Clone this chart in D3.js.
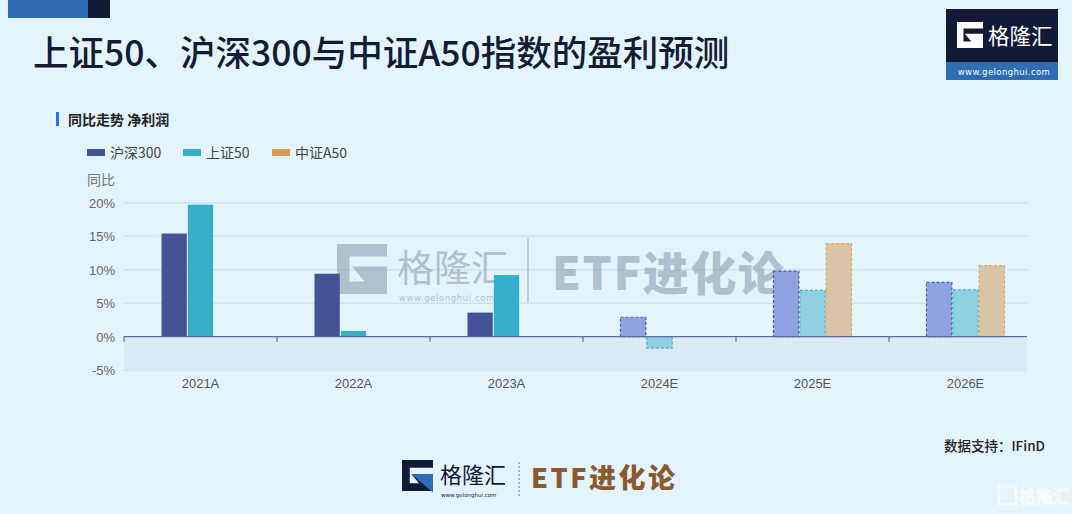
<!DOCTYPE html>
<html><head><meta charset="utf-8">
<script src="https://cdn.jsdelivr.net/npm/d3@7"></script>
<style>
html,body{margin:0;padding:0;background:#E3F4FD;}
svg{display:block;font-family:"Noto Sans CJK SC","Noto Sans",sans-serif;}
</style></head>
<body>
<svg id="c" width="1072" height="514"></svg>
<script>
const categories = ["2021A","2022A","2023A","2024E","2025E","2026E"];
const isEstimate = [false,false,false,true,true,true];
const seriesNames = ["沪深300","上证50","中证A50"];
const hs300 = [15.4, 9.4, 3.6, 2.9, 9.8, 8.1];
const sz50 = [19.7, 0.85, 9.2, -1.7, 6.9, 7.0];
const a50 = [null, null, null, null, 13.9, 10.6];
const yTicks = [-5, 0, 5, 10, 15, 20];

const solid = ["#445397", "#36AFCD", "#D99A4E"];
const fillEst = ["#8FA3E3", "#8FD1E3", "#D9C5A5"];
const strokeEst = ["#4E5B9F", "#3FB2D1", "#E2A662"];

const svg = d3.select("#c");
svg.append("rect").attr("width",1072).attr("height",514).attr("fill","#E3F4FD");

// top-left decoration
svg.append("rect").attr("x",8).attr("y",0).attr("width",80).attr("height",18).attr("fill","#2E6DB4");
svg.append("rect").attr("x",88).attr("y",0).attr("width",22).attr("height",18).attr("fill","#111A35");

// title
svg.append("text").attr("x",33).attr("y",66).attr("font-size",35.5).attr("font-weight",500)
  .attr("fill","#131B35").text("上证50、沪深300与中证A50指数的盈利预测");

function gIcon(g, x, y, s, col, col2){
  const p = d3.path();
  p.moveTo(x, y); p.lineTo(x+s, y); p.lineTo(x+s, y+s*0.25); p.lineTo(x+s*0.25, y+s*0.25);
  p.lineTo(x+s*0.25, y+s*0.75); p.lineTo(x+s*0.55, y+s*0.75); p.lineTo(x+s*0.3, y+s*0.45);
  p.lineTo(x+s, y+s*0.45); p.lineTo(x+s, y+s); p.lineTo(x, y+s); p.closePath();
  g.append("path").attr("d", p.toString()).attr("fill", col);
  if (col2) {
    const q = d3.path();
    q.moveTo(x+s*0.3, y+s*0.45); q.lineTo(x+s, y+s*0.45); q.lineTo(x+s, y+s*1.05); q.closePath();
    g.append("path").attr("d", q.toString()).attr("fill", col2);
  }
}

// logo top right
const lg = svg.append("g");
lg.append("rect").attr("x",946).attr("y",9).attr("width",112).attr("height",53).attr("fill","#111A35");
lg.append("rect").attr("x",946).attr("y",62).attr("width",112).attr("height",18).attr("fill","#2E6DB4");
gIcon(lg, 957, 22, 26, "#FFFFFF");
lg.append("text").attr("x",988).attr("y",44).attr("font-size",21.5).attr("fill","#fff").text("格隆汇");
lg.append("text").attr("x",1004).attr("y",75).attr("font-size",8.5).attr("fill","#fff")
  .attr("text-anchor","middle").attr("letter-spacing",0.4).attr("font-family","DejaVu Sans").text("www.gelonghui.com");

// subtitle
svg.append("rect").attr("x",56).attr("y",112).attr("width",3).attr("height",14).attr("fill","#2F6FD8");
svg.append("text").attr("x",68).attr("y",125).attr("font-size",14).attr("font-weight",700).attr("fill","#222").text("同比走势 净利润");

// legend
const legX = [87, 183, 272];
seriesNames.forEach((n,i)=>{
  svg.append("rect").attr("x",legX[i]).attr("y",149).attr("width",18).attr("height",7).attr("fill",solid[i]);
  svg.append("text").attr("x",legX[i]+23).attr("y",158).attr("font-size",14).attr("fill","#444").text(n);
});

// scales
const plotL = 124, plotR = 1027;
const x = d3.scaleBand().domain(categories).range([124, 1042]).paddingInner(0).paddingOuter(0);
const y = d3.scaleLinear().domain([-5, 20]).range([370.2, 202.7]);
const bw = x.bandwidth();
const xi = d3.scaleBand().domain(seriesNames).range([bw/2-39, bw/2+39]).paddingInner(0.04);

// negative area shading
svg.append("rect").attr("x",plotL).attr("y",y(0)).attr("width",plotR-plotL).attr("height",y(-5)-y(0)).attr("fill","#DCEAF6");

// gridlines
svg.append("g").selectAll("line").data(yTicks.filter(t=>t!==0)).join("line")
  .attr("x1",plotL).attr("x2",plotR).attr("y1",d=>y(d)).attr("y2",d=>y(d))
  .attr("stroke","#CFE2F3").attr("stroke-width",1.5);

// y axis labels
const yAxis = d3.axisLeft(y).tickValues(yTicks).tickFormat(d=>d+"%").tickSize(0).tickPadding(0);
const ya = svg.append("g").attr("transform","translate(115,0)").call(yAxis);
ya.select(".domain").remove();
ya.selectAll("text").attr("font-size",13).attr("fill","#666").attr("font-family","Liberation Sans, Arial, sans-serif").attr("dy","0.35em");
svg.append("text").attr("x",87).attr("y",185).attr("font-size",14).attr("fill","#777").text("同比");

// watermark (center)
const wm = svg.append("g").attr("opacity",0.55);
gIcon(wm, 337, 244, 50, "#8A97A8");
wm.append("text").attr("x",397).attr("y",282).attr("font-size",37).attr("fill","#8A97A8").text("格隆汇");
wm.append("text").attr("x",399).attr("y",301).attr("font-size",8.5).attr("fill","#8A97A8").attr("font-family","DejaVu Sans").attr("letter-spacing",0.6).text("www.gelonghui.com");
wm.append("line").attr("x1",528).attr("x2",528).attr("y1",238).attr("y2",302).attr("stroke","#8A97A8").attr("stroke-width",1.5);
wm.append("text").attr("x",552).attr("y",290).attr("font-size",46).attr("font-weight",900).attr("fill","#8A97A8")
  .attr("font-family","Noto Sans CJK SC").attr("letter-spacing",1.5).text("ETF进化论");

// bars
const seriesData = [hs300, sz50, a50];
const bars = svg.append("g");
seriesData.forEach((arr,si)=>{
  arr.forEach((v,ci)=>{
    if (v === null) return;
    const est = isEstimate[ci];
    const bx = x(categories[ci]) + xi(seriesNames[si]);
    const y0 = y(Math.max(0,v)), y1 = y(Math.min(0,v));
    const r = bars.append("rect").attr("x",bx).attr("y",y0).attr("width",xi.bandwidth()).attr("height",y1-y0);
    if (est) {
      r.attr("fill",fillEst[si]).attr("stroke",strokeEst[si]).attr("stroke-width",1.2).attr("stroke-dasharray","3,2");
    } else {
      r.attr("fill",solid[si]);
    }
  });
});

// x axis
svg.append("line").attr("x1",plotL).attr("x2",plotR).attr("y1",y(0)).attr("y2",y(0)).attr("stroke","#5C6A9C").attr("stroke-width",1.3);
const xa = d3.axisBottom(x).tickSize(0).tickPadding(0);
const xg = svg.append("g").attr("transform",`translate(0,${y(0)})`).call(xa);
xg.select(".domain").remove();
xg.selectAll("text").attr("font-size",13).attr("fill","#555").attr("font-family","Liberation Sans, Arial, sans-serif").attr("dy",0).attr("y",51);
svg.append("g").selectAll("line").data(categories).join("line")
  .attr("x1",d=>x(d)).attr("x2",d=>x(d)).attr("y1",y(0)).attr("y2",y(0)+5).attr("stroke","#5C6A9C").attr("stroke-width",1.2);

// source
svg.append("text").attr("x",1045).attr("y",451).attr("text-anchor","end").attr("font-size",13.5).attr("font-weight",500).attr("fill","#222").text("数据支持：IFinD");

// bottom logo
const bl = svg.append("g");
gIcon(bl, 402, 460, 31, "#111A35", "#2E6DB4");
bl.append("text").attr("x",440).attr("y",483).attr("font-size",22).attr("fill","#111A35").text("格隆汇");
bl.append("text").attr("x",441).attr("y",497).attr("font-size",5.5).attr("fill","#111A35").attr("font-family","DejaVu Sans").text("www.gelonghui.com");
bl.append("line").attr("x1",519).attr("x2",519).attr("y1",462).attr("y2",496).attr("stroke","#6B7A99").attr("stroke-dasharray","2,2");
bl.append("text").attr("x",531).attr("y",488).attr("font-size",27).attr("font-weight",900).attr("fill","#8A5A2E").attr("letter-spacing",2.5).text("ETF进化论");

// bottom right faint watermark
const br = svg.append("g").attr("opacity",0.8);
br.append("rect").attr("x",999).attr("y",487).attr("width",17).attr("height",17).attr("fill","none").attr("stroke","#fff").attr("stroke-width",2.5);
br.append("text").attr("x",1019).attr("y",503).attr("font-size",17).attr("fill","none").attr("stroke","#fff").attr("stroke-width",1).text("格隆汇");
</script>
</body></html>
